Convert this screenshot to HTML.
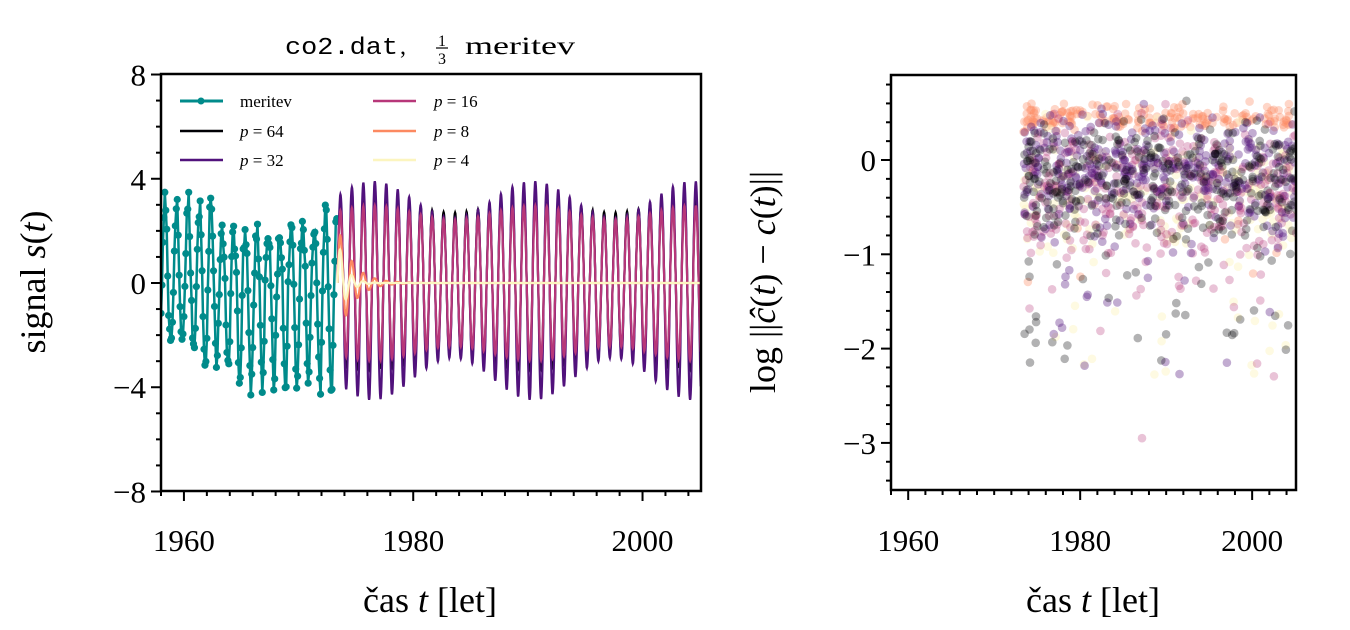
<!DOCTYPE html>
<html><head><meta charset="utf-8">
<style>
html,body{margin:0;padding:0;background:#fff;}
svg{display:block;}
text{font-family:"Liberation Serif","DejaVu Serif",serif;fill:#000;}
text.mono{font-family:"Liberation Mono","DejaVu Sans Mono",monospace;}
</style></head>
<body>
<svg id="s" width="1350" height="630" viewBox="0 0 1350 630" xmlns="http://www.w3.org/2000/svg">
<defs>
<clipPath id="c1"><rect x="161" y="74" width="540" height="417"/></clipPath>
<clipPath id="c2"><rect x="891" y="75" width="405" height="415"/></clipPath>
</defs>
<g id="left" clip-path="url(#c1)"></g>
<g id="right" clip-path="url(#c2)"></g>
<g id="axes"></g>
<text class="mono" x="285" y="54" font-size="24" textLength="113" lengthAdjust="spacingAndGlyphs">co2.dat</text>
<text x="400" y="54" font-size="24">,</text>
<text x="442" y="46" font-size="16" text-anchor="middle">1</text>
<line x1="436" y1="48" x2="448" y2="48" stroke="#000" stroke-width="1.2"/>
<text x="442" y="64" font-size="16" text-anchor="middle">3</text>
<text x="465" y="54" font-size="25" textLength="110" lengthAdjust="spacingAndGlyphs">meritev</text>
<text x="45" y="282" font-size="36" text-anchor="middle" transform="rotate(-90 45 282)">signal <tspan font-style="italic">s</tspan>(<tspan font-style="italic">t</tspan>)</text>
<text x="430" y="612" font-size="36" text-anchor="middle">čas <tspan font-style="italic">t</tspan> [let]</text>
<text x="775" y="282" font-size="36" text-anchor="middle" transform="rotate(-90 775 282)">log ||<tspan font-style="italic">ĉ</tspan>(<tspan font-style="italic">t</tspan>) − <tspan font-style="italic">c</tspan>(<tspan font-style="italic">t</tspan>)||</text>
<text x="1093" y="612" font-size="36" text-anchor="middle">čas <tspan font-style="italic">t</tspan> [let]</text>
<g font-size="17">
<line x1="180" y1="101" x2="223" y2="101" stroke="#008b8b" stroke-width="3"/><circle cx="201" cy="101" r="3.5" fill="#008b8b"/>
<text x="240" y="107">meritev</text>
<line x1="180" y1="131" x2="223" y2="131" stroke="#000004" stroke-width="2.5"/><text x="240" y="137"><tspan font-style="italic">p</tspan> = 64</text>
<line x1="180" y1="160" x2="223" y2="160" stroke="#51127c" stroke-width="2.5"/><text x="240" y="166"><tspan font-style="italic">p</tspan> = 32</text>
<line x1="373" y1="101" x2="416" y2="101" stroke="#b73779" stroke-width="2.5"/><text x="434" y="107"><tspan font-style="italic">p</tspan> = 16</text>
<line x1="373" y1="131" x2="416" y2="131" stroke="#fc8961" stroke-width="2.5"/><text x="434" y="137"><tspan font-style="italic">p</tspan> = 8</text>
<line x1="373" y1="160" x2="416" y2="160" stroke="#fcf5bf" stroke-width="2.5"/><text x="434" y="166"><tspan font-style="italic">p</tspan> = 4</text>
</g>
</svg>
<script>
(function(){
var NS="http://www.w3.org/2000/svg";
function el(p,t,a){var e=document.createElementNS(NS,t);for(var k in a)e.setAttribute(k,a[k]);p.appendChild(e);return e;}
var seed=12345;function rnd(){seed=(seed*1103515245+12345)%2147483648;return seed/2147483648;}
function gauss(){return (rnd()+rnd()+rnd()+rnd()-2)*1.2;}
var X0=1958,X1=2005.1;
function lx(t){return 161+(t-X0)/(X1-X0)*540;}
function ly(v){return 283-v*26.06;}
var L=document.getElementById('left');
var pts=[];
for(var i=0;i<=184;i++){var t=1958+i/12;
 var peak=(t<1963?3.2:(t<1972?2.0:2.6)); var trough=(t<1961?-2.4:(t<1964?-3.2:-4.0));
 var ph=Math.cos(2*Math.PI*(t-1958.35));
 var v=(ph>0?ph*peak:ph*(-trough));
 v+=gauss()*0.35; pts.push([lx(t),ly(v)]);}
var d=pts.map(function(p,i){return (i?'L':'M')+p[0].toFixed(1)+' '+p[1].toFixed(1);}).join('');
el(L,'path',{d:d,fill:'none',stroke:'#008b8b','stroke-width':2.5});
pts.forEach(function(p){el(L,'circle',{cx:p[0],cy:p[1],r:3.6,fill:'#008b8b'});});
var T0=1973.4;
function series(amp,decay,col,w,mod,tr){var s='';for(var t=T0;t<=X1;t+=1/40){
 var e=(decay>0)?Math.exp(-(t-T0)/decay):1;
 var a=amp*(1+mod*Math.sin((t-1973)*0.45))*e;
 var v=a*Math.sin(2*Math.PI*(t-T0));
 var y=v>0?v:v*tr;
 s+=(s?'L':'M')+lx(t).toFixed(1)+' '+ly(y).toFixed(1);}
 el(L,'path',{d:s,fill:'none',stroke:col,'stroke-width':w});}
series(3.0,0,'#000004',2.2,0.1,1.0);
series(3.2,0,'#51127c',2.2,0.22,1.15);
series(2.7,0,'#b73779',2.2,0.1,1.0);
series(2.2,1.3,'#fc8961',2.2,0,1);
series(1.8,0.7,'#fcf5bf',2.2,0,1);
function rx(t){return 891+(t-X0)/(X1-X0)*405;}
function ry(v){return 160-v*94.3;}
var R=document.getElementById('right');
var groups=[['#fc8961',0.35,0.45,0.1,200],['#fcf5bf',0.45,-0.4,0.5,200],['#b73779',0.3,-0.3,0.5,350],['#51127c',0.35,-0.1,0.42,380],['#000004',0.3,-0.2,0.45,380]];
groups.forEach(function(g){for(var i=0;i<g[4];i++){var t=1973.4+rnd()*31.8;
 var v=g[2]+gauss()*g[3]; if(rnd()<0.12) v-=rnd()*1.8;
 if(v>0.65) v=0.65-rnd()*0.1;
 el(R,'circle',{cx:rx(t).toFixed(1),cy:ry(v).toFixed(1),r:4.3,fill:g[0],'fill-opacity':g[1]});}});
var A=document.getElementById('axes');
function frame(x0,y0,x1,y1){el(A,'rect',{x:x0,y:y0,width:x1-x0,height:y1-y0,fill:'none',stroke:'#000','stroke-width':2.5});}
frame(161,74,701,491);frame(891,75,1296,490);
function tick(x1,y1,x2,y2){el(A,'line',{x1:x1,y1:y1,x2:x2,y2:y2,stroke:'#000','stroke-width':2});}
function txt(x,y,s,anc){var e=el(A,'text',{x:x,y:y,'font-size':31,'text-anchor':anc});e.textContent=s;}
for(var yr=1958;yr<=2005;yr+=2){var maj=yr%20==0;
 tick(lx(yr),491,lx(yr),491+(maj?10:5)); tick(rx(yr),490,rx(yr),490+(maj?10:5));
 if(maj){txt(lx(yr),551,yr,'middle');txt(rx(yr),551,yr,'middle');}}
for(var v=-8;v<=8;v++){var maj=v%4==0;tick(161,ly(v),161-(maj?10:5),ly(v));
 if(maj)txt(146,ly(v)+11,(v<0?'−':'')+Math.abs(v),'end');}
for(var k=-17;k<=4;k++){var v=k/5;var y=ry(v);if(y<75||y>490)continue;var maj=k%5==0;
 tick(891,y,891-(maj?10:5),y); if(maj)txt(876,y+11,(v<0?'−':'')+Math.abs(v),'end');}
})();
</script>
</body></html>
